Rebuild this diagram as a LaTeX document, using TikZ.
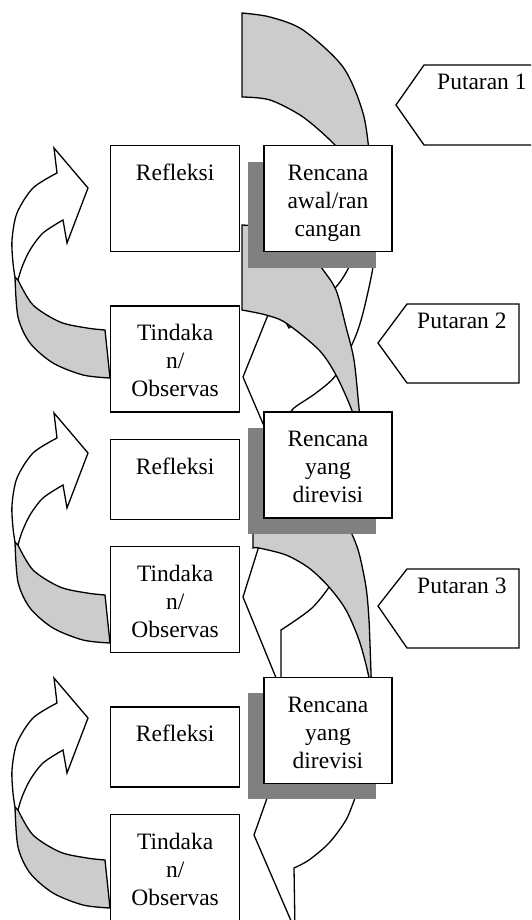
\documentclass[tikz,border=0pt]{standalone}
\usepackage{fontspec}
\setmainfont{Liberation Serif}
\usetikzlibrary{positioning, shadows}

\definecolor{abu}{HTML}{CCCCCC}
\definecolor{bayang}{HTML}{808080}

\tikzset{
  garis/.style={line width=1.3pt},
  belakang/.style={garis, draw=black, fill=abu},
  depan/.style={garis, draw=black, fill=white},
  teks/.style={font=\fontsize{23.5}{28}\selectfont},
  kotak/.style={teks, garis, draw, fill=white, inner sep=0pt, align=center,
    text width=129pt, text height=35pt, text depth=71pt},
  pendek/.style={text depth=45pt},
  rencana/.style={kotak, text width=128pt,
    drop shadow={shadow xshift=-16pt, shadow yshift=-16pt, fill=bayang, opacity=1}},
  putaran/.style={garis, draw, fill=white}
}

\begin{document}
\begin{tikzpicture}[x=1pt, y=-1pt]
  \useasboundingbox (0,0) rectangle (531,920);
  \clip (0,0) rectangle (531,920);

  % Left arrows (Tindakan to Refleksi)
  \foreach \dy in {0,265,530} {
    \begin{scope}[shift={(0,\dy)}]
      \filldraw[belakang] (15,277) -- plot[smooth] coordinates {(15,277) (18,317) (30,343) (53,363) (83,375) (110,378)}
        -- (105,330) -- plot[smooth] coordinates {(105,330) (87,328) (60,322) (33,305) (18,280)} -- cycle;
      \filldraw[depan] (15,277) -- plot[smooth] coordinates {(15,277) (13,263) (12,240) (17,213) (33,188) (57,173)}
        -- (54,148) -- (88,188) -- (67,243) -- (63,220)
        -- plot[smooth] coordinates {(63,220) (43,233) (30,250) (22,267) (18,280)} -- cycle;
    \end{scope}
  }

  % Centre arrows (Rencana to Tindakan)
  \filldraw[belakang] (242,13) -- plot[smooth] coordinates {(242,13) (270,17) (303,30) (343,67) (363,113) (370,160) (374,205)}
    -- plot[smooth] coordinates {(374,205) (356,172) (335,145) (303,117) (270,100) (242,97)} -- cycle;
  \filldraw[depan] (374,205) -- plot[smooth] coordinates {(374,205) (374,240) (373,267) (363,313) (354,340) (336,375) (316,393) (294,408) (285,420)}
    -- (285,475) -- (243,377) -- (274,300) -- (289,328)
    -- plot[smooth] coordinates {(289,328) (315,305) (336,287) (349,267) (362,235) (374,205)} -- cycle;

  \filldraw[belakang] (242,225) -- plot[smooth] coordinates {(242,225) (275,229) (305,245) (321,267) (336,290) (346,327) (354,360) (359,408) (362,440)}
    -- plot[smooth] coordinates {(362,440) (351,408) (336,375) (319,350) (286,323) (266,315) (242,310)} -- cycle;
  \filldraw[depan] (362,440) -- plot[smooth] coordinates {(362,440) (356,490) (345,532) (335,570) (329,587) (313,607) (296,620) (281,630)}
    -- (281,690) -- (243,597) -- (264,530) -- (274,548)
    -- plot[smooth] coordinates {(274,548) (310,515) (340,480) (362,440)} -- cycle;

  \filldraw[belakang] (253,464) -- plot[smooth] coordinates {(253,464) (300,475) (335,500) (351,532) (359,553) (366,587) (369,620) (371,673) (372,700)}
    -- plot[smooth] coordinates {(372,700) (368,673) (359,640) (346,610) (329,587) (309,568) (286,555) (259,548) (253,548)} -- cycle;
  \filldraw[depan] (372,700) -- plot[smooth] coordinates {(372,700) (372,750) (365,780) (356,796) (346,820) (329,843) (309,860) (294,868)}
    -- (295,930) -- (254,835) -- (277,770) -- (287,790)
    -- plot[smooth] coordinates {(287,790) (320,765) (350,735) (372,700)} -- cycle;

  % Boxes
  \node (ref1) [kotak, anchor=north west] at (110,145) {Refleksi};
  \node (ren1) [rencana, right=23pt of ref1] {Rencana\\awal/ran\\cangan};
  \node (tin1) [kotak, below=53pt of ref1] {Tindaka\\n/\\Observas};
  \node (ref2) [kotak, pendek, below=26pt of tin1] {Refleksi};
  \node (ren2) [rencana, below=159pt of ren1] {Rencana\\yang\\direvisi};
  \node (tin2) [kotak, below=26pt of ref2] {Tindaka\\n/\\Observas};
  \node (ref3) [kotak, pendek, below=53pt of tin2] {Refleksi};
  \node (ren3) [rencana, below=158pt of ren2] {Rencana\\yang\\direvisi};
  \node (tin3) [kotak, below=26pt of ref3] {Tindaka\\n/\\Observas};

  % Rounds
  \filldraw[putaran] (396,105) -- (424,65) -- (540,65) -- (540,145) -- (424,145) -- cycle;
  \node (put1) [teks, anchor=base west, inner sep=0pt] at (437,90) {Putaran 1};
  \filldraw[putaran] (378,343) -- (407,304) -- (519,304) -- (519,383) -- (407,383) -- cycle;
  \node (put2) [teks, anchor=base west, inner sep=0pt] at (417,328) {Putaran 2};
  \filldraw[putaran] (378,606) -- (407,569) -- (519,569) -- (519,648) -- (407,648) -- cycle;
  \node (put3) [teks, anchor=base west, inner sep=0pt] at (417,593) {Putaran 3};
\end{tikzpicture}
\end{document}
